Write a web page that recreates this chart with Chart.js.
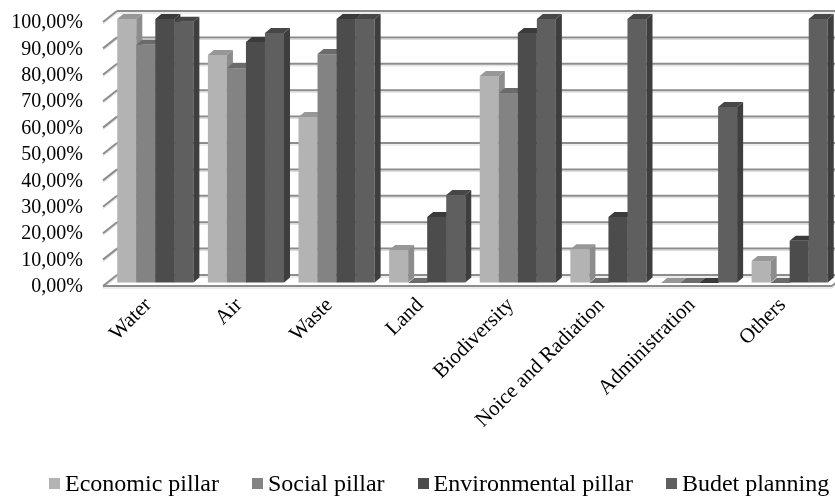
<!DOCTYPE html>
<html>
<head>
<meta charset="utf-8">
<script src="https://cdn.jsdelivr.net/npm/chart.js@4/dist/chart.umd.min.js"></script>
<style>
  body { margin: 0; background: #fff; }
  #wrap { position: relative; width: 835px; height: 497px; }
  #legend { position: absolute; left: 49px; top: 471px; display: flex; font: 24px "Liberation Serif", "Times New Roman", serif; line-height: 24px; color: #000; white-space: nowrap; }
  #legend span.item { display: flex; align-items: center; margin-right: 33px; }
  #legend span.box { width: 11px; height: 11px; margin-right: 5px; display: inline-block; }
</style>
</head>
<body>
<div id="wrap">
  <canvas id="myChart" width="835" height="497"></canvas>
  <div id="legend"></div>
</div>
<script>
var categories = ["Water", "Air", "Waste", "Land", "Biodiversity", "Noice and Radiation", "Administration", "Others"];
var economic = [100, 86.4, 62.9, 12.5, 78.4, 12.8, 0, 8.3];
var social = [90.2, 81.4, 86.7, 0, 72, 0, 0, 0];
var environmental = [100, 91.3, 100, 25, 94.7, 25, 0, 16];
var budget = [99, 94.7, 100, 33.3, 100, 100, 66.7, 100];
var seriesNames = ["Economic pillar", "Social pillar", "Environmental pillar", "Budet planning"];
var yMin = 0, yMax = 100, yStep = 10;

var frontColors = ["#b3b3b3", "#838383", "#4c4c4c", "#5f5f5f"];
var topColors = ["#979797", "#6b6b6b", "#3a3a3a", "#474747"];
var sideColors = ["#8c8c8c", "#656565", "#363636", "#3e3e3e"];

var depthX = 6, depthY = 5;

function poly(ctx, pts, color) {
    ctx.beginPath();
    ctx.moveTo(pts[0][0], pts[0][1]);
    for (var i = 1; i < pts.length; i++) ctx.lineTo(pts[i][0], pts[i][1]);
    ctx.closePath();
    ctx.fillStyle = color;
    ctx.fill();
}

function gridLine(ctx, x1, y1, x2, y2) {
    ctx.strokeStyle = "#dadada";
    ctx.lineWidth = 1;
    ctx.beginPath(); ctx.moveTo(x1, y1 + 2); ctx.lineTo(x2, y2 + 2); ctx.stroke();
    ctx.strokeStyle = "#8c8c8c";
    ctx.lineWidth = 2;
    ctx.beginPath(); ctx.moveTo(x1, y1); ctx.lineTo(x2, y2); ctx.stroke();
}

// walls, floor and 3d bars
var bars3d = {
    id: 'bars3d',
    beforeDatasetsDraw: function (chart) {
        var ctx = chart.ctx, area = chart.chartArea, ys = chart.scales.y;
        var lx = area.left - 7, bx = lx + 14;
        ctx.save();
        ys.ticks.forEach(function (t) {
            var yl = ys.getPixelForValue(t.value) + 3;
            var yb = yl - 11;
            gridLine(ctx, lx, yl, bx, yb);
            gridLine(ctx, bx, yb, chart.width, yb);
        });
        var y0 = ys.getPixelForValue(0) + 3;
        gridLine(ctx, lx, y0, area.right - 3, y0);
        gridLine(ctx, area.right - 3, y0, area.right + 3, y0 - 5);

        chart.data.datasets.forEach(function (ds, i) {
            var meta = chart.getDatasetMeta(i);
            meta.data.forEach(function (bar) {
                var p = bar.getProps(['x', 'y', 'base', 'width'], true);
                var l = p.x - p.width / 2, r = p.x + p.width / 2;
                ctx.fillStyle = frontColors[i];
                ctx.fillRect(l, p.y, p.width, p.base - p.y);
                poly(ctx, [[l, p.y], [l + depthX, p.y - depthY], [r + depthX, p.y - depthY], [r, p.y]], topColors[i]);
                poly(ctx, [[r, p.y], [r + depthX, p.y - depthY], [r + depthX, p.base - depthY], [r, p.base]], sideColors[i]);
            });
        });
        ctx.restore();
        return false;
    }
};

var ctx = document.getElementById("myChart").getContext('2d');
var myChart = new Chart(ctx, {
    type: 'bar',
    data: {
        labels: categories,
        datasets: [
            { label: seriesNames[0], data: economic, backgroundColor: frontColors[0] },
            { label: seriesNames[1], data: social, backgroundColor: frontColors[1] },
            { label: seriesNames[2], data: environmental, backgroundColor: frontColors[2] },
            { label: seriesNames[3], data: budget, backgroundColor: frontColors[3] }
        ]
    },
    options: {
        responsive: false,
        animation: false,
        devicePixelRatio: 1,
        categoryPercentage: 0.84,
        barPercentage: 1,
        layout: { padding: { top: 19, left: 0, right: 0, bottom: 0 } },
        plugins: { legend: { display: false }, tooltip: { enabled: false } },
        scales: {
            x: {
                grid: { display: false },
                border: { display: false },
                ticks: {
                    autoSkip: false,
                    maxRotation: 45,
                    minRotation: 45,
                    padding: 2,
                    labelOffset: -7,
                    color: '#000',
                    font: { family: '"Liberation Serif", "Times New Roman", serif', size: 21 }
                },
                afterFit: function (s) { s.height = 214; }
            },
            y: {
                min: yMin,
                max: yMax,
                grid: { display: true, drawOnChartArea: false, drawTicks: true, tickLength: 27, color: 'rgba(0,0,0,0)' },
                border: { display: false },
                ticks: {
                    autoSkip: false,
                    stepSize: yStep,
                    padding: 0,
                    labelOffset: 4,
                    color: '#000',
                    font: { family: '"Liberation Serif", "Times New Roman", serif', size: 20 },
                    callback: function (v) { return v.toFixed(2).replace('.', ',') + '%'; }
                },
                afterFit: function (s) { s.width = 110; }
            }
        }
    },
    plugins: [bars3d]
});

var legendEl = document.getElementById('legend');
myChart.data.datasets.forEach(function (ds) {
    var item = document.createElement('span');
    item.className = 'item';
    var box = document.createElement('span');
    box.className = 'box';
    box.style.background = ds.backgroundColor;
    item.appendChild(box);
    item.appendChild(document.createTextNode(ds.label));
    legendEl.appendChild(item);
});
</script>
</body>
</html>
